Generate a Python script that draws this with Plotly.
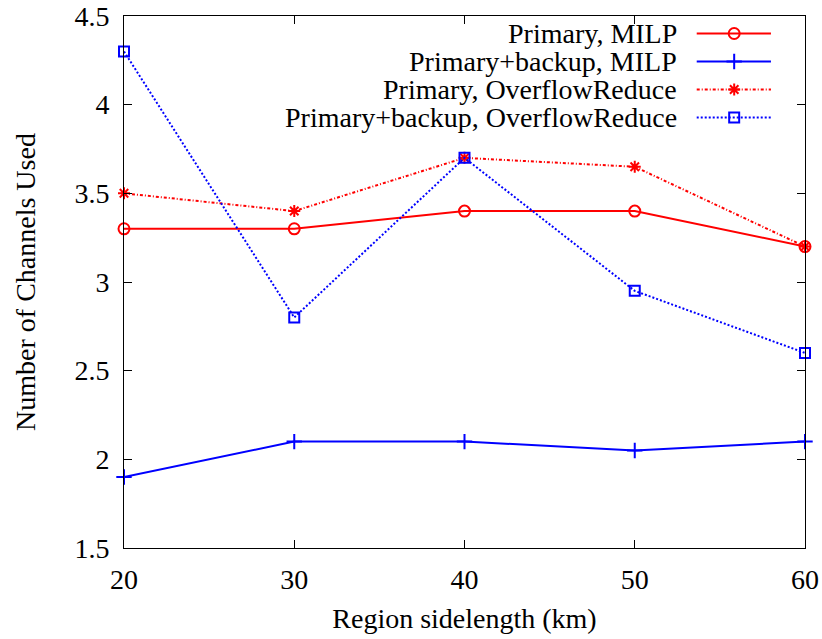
import plotly.graph_objects as go

# Region side length (km)
sidelength = [20, 30, 40, 50, 60]

# Number of channels used per scheme
primary_milp = [3.3, 3.3, 3.4, 3.4, 3.2]
backup_milp = [1.9, 2.1, 2.1, 2.05, 2.1]
primary_overflow = [3.5, 3.4, 3.7, 3.65, 3.2]
backup_overflow = [4.3, 2.8, 3.7, 2.95, 2.6]

x_ticks = [20, 30, 40, 50, 60]
y_ticks = [1.5, 2, 2.5, 3, 3.5, 4, 4.5]
y_ticklabels = ["1.5", "2", "2.5", "3", "3.5", "4", "4.5"]

DASHDOT = "3px,2px,1px,2px"
DOTTED = "2px,2px"

series = [
    ("Primary, MILP", primary_milp, "#ff0000", "solid", "circle-open", 11),
    ("Primary+backup, MILP", backup_milp, "#0000ff", "solid", "cross-thin-open", 11),
    ("Primary, OverflowReduce", primary_overflow, "#ff0000", DASHDOT, "asterisk-open", 10),
    ("Primary+backup, OverflowReduce", backup_overflow, "#0000ff", DOTTED, "square-open", 10),
]

FONT = "Liberation Serif"
FSIZE = 28

fig = go.Figure()
for name, vals, color, dash, symbol, msize in series:
    fig.add_trace(go.Scatter(
        x=sidelength, y=vals, mode="lines+markers", name=name,
        line=dict(color=color, width=2, dash=dash),
        marker=dict(symbol=symbol, size=msize, color=color,
                    line=dict(color=color, width=2)),
        showlegend=False, cliponaxis=False,
    ))

# Key drawn at upper right: label text on the left, sample line on the right
key_rows = [0.9671, 0.9145, 0.8618, 0.8092]
for (name, vals, color, dash, symbol, msize), yy in zip(series, key_rows):
    fig.add_trace(go.Scatter(
        x=[0.841, 0.950], y=[yy, yy], mode="lines", xaxis="x2", yaxis="y2",
        line=dict(color=color, width=2, dash=dash), showlegend=False,
        hoverinfo="skip",
    ))
    fig.add_trace(go.Scatter(
        x=[0.896], y=[yy], mode="markers", xaxis="x2", yaxis="y2",
        marker=dict(symbol=symbol, size=msize, color=color,
                    line=dict(color=color, width=2)),
        showlegend=False, hoverinfo="skip",
    ))
    fig.add_annotation(
        x=0.815, y=yy, xref="paper", yref="paper", text=name,
        showarrow=False, xanchor="right", yanchor="middle",
        font=dict(family=FONT, size=FSIZE, color="black"),
    )

axis_common = dict(
    showgrid=False, zeroline=False, showline=True, linecolor="black",
    linewidth=1, mirror="ticks", ticks="inside", ticklen=8,
    tickcolor="black", tickwidth=1, automargin=False,
    ticklabeloverflow="allow",
    tickfont=dict(family=FONT, size=FSIZE, color="black"),
)

fig.update_layout(
    width=822, height=639,
    margin=dict(l=124, r=17, t=16, b=91),
    paper_bgcolor="white", plot_bgcolor="white",
    font=dict(family=FONT),
    xaxis=dict(range=[20, 60], tickvals=x_ticks,
               title=dict(text="Region sidelength (km)", standoff=14,
                          font=dict(family=FONT, size=FSIZE, color="black")),
               ticklabelstandoff=6, **axis_common),
    yaxis=dict(range=[1.5, 4.5], tickvals=y_ticks, ticktext=y_ticklabels,
               title=dict(text="Number of Channels Used", standoff=30,
                          font=dict(family=FONT, size=FSIZE, color="black")),
               ticklabelstandoff=8, **axis_common),
    xaxis2=dict(range=[0, 1], overlaying="x", visible=False, fixedrange=True),
    yaxis2=dict(range=[0, 1], overlaying="y", visible=False, fixedrange=True),
)

fig.write_html("out.html")
